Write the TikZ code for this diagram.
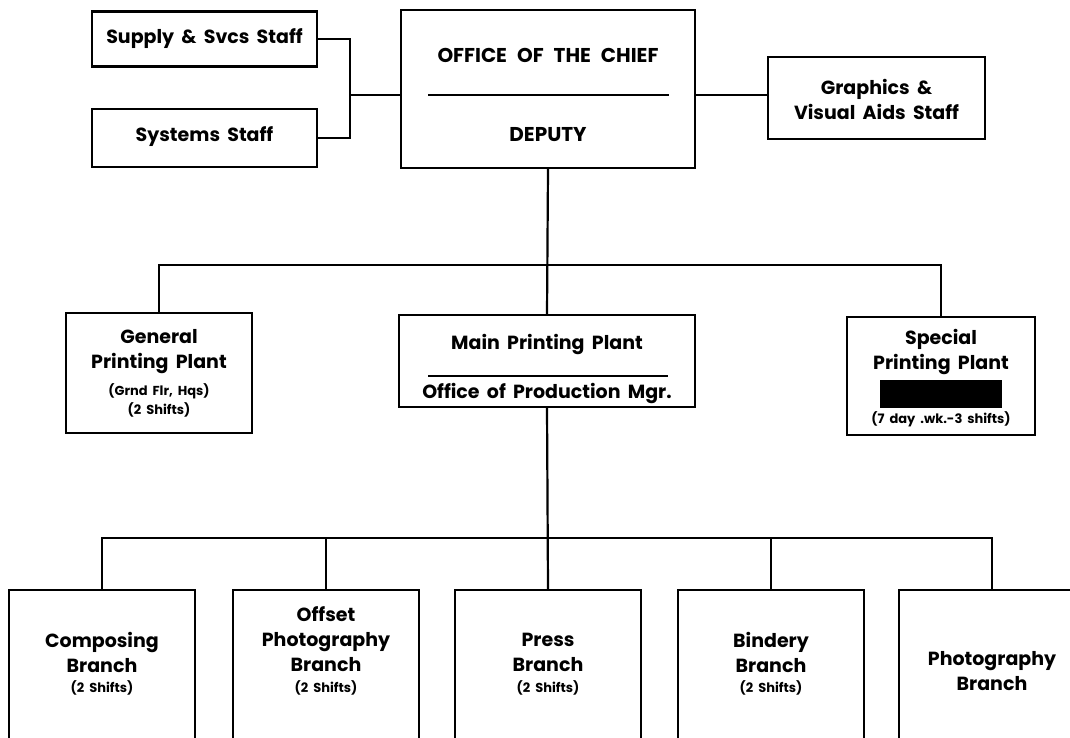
\documentclass[tikz,border=0pt]{standalone}
\usepackage{fontspec}
\setmainfont{Poppins}[WordSpace=1.8]
\begin{document}
\begin{tikzpicture}[x=1pt,y=-1pt,
  box/.style={draw, line width=2.2pt, inner sep=0pt},
  conn/.style={line width=2.2pt},
  big/.style={font=\bfseries\fontsize{19}{25}\selectfont, align=center, inner sep=0pt},
  small/.style={font=\bfseries\fontsize{13}{19}\selectfont, align=center, inner sep=0pt}]
\useasboundingbox (0,0) rectangle (1070,738);
\begin{scope}
\clip (0,0) rectangle (1070,738);
% top level
\node[box, minimum width=225pt, minimum height=55pt] (supply) at (204.5,39) {};
\node[box, minimum width=225pt, minimum height=58pt] (systems) at (204.5,138) {};
\node[box, minimum width=294pt, minimum height=158pt] (chief) at (548,89) {};
\node[box, minimum width=217pt, minimum height=82pt] (graphics) at (876.5,98) {};
% second level
\node[box, minimum width=186pt, minimum height=120pt] (general) at (159,373) {};
\node[box, minimum width=296pt, minimum height=92pt] (main) at (547,361) {};
\node[box, minimum width=188pt, minimum height=118pt] (special) at (941,376) {};
% third level
\foreach \n/\cx in {comp/102, offset/326, press/548, bindery/771, photo/992}{
  \node[box, minimum width=186pt, minimum height=200pt] (\n) at (\cx,690) {};
}
% texts
\node[big] (tsupply) at (204.5,39) {Supply \& Svcs Staff};
\node[big] (tsystems) at (204.5,137) {Systems Staff};
\node[big, font=\bfseries\fontsize{20}{25}\selectfont] (tchief) at (548,55) {OFFICE\hspace{10pt}OF\hspace{10pt}THE\hspace{10pt}CHIEF};
\node[big, font=\bfseries\fontsize{20}{25}\selectfont] (tdeputy) at (548,135) {DEPUTY};
\draw[conn] (428,95) -- (669,95);
\node[big] (tgraphics) at (876.5,99) {Graphics \&\\Visual Aids Staff};
\node[big] (tgeneral) at (159,352) {General\\Printing Plant};
\node[small] (tgeneral2) at (159,400) {(Grnd Flr, Hqs)\\(2 Shifts)};
\node[big] (tmain) at (547,345) {Main Printing Plant};
\draw[conn] (428,376) -- (668,376);
\node[big] (tmain2) at (547,394) {Office of Production Mgr.};
\node[big] (tspecial) at (941,352) {Special\\Printing Plant};
\fill (880,380) rectangle (1002,408);
\node[small] (tspecial2) at (941,419) {(7 day .wk.-3 shifts)};
\node[big] (tcomp) at (102,652) {Composing\\Branch};
\node[small] (tcomp2) at (102,688) {(2 Shifts)};
\node[big] (toffset) at (326,639) {Offset\\Photography\\Branch};
\node[small] (toffset2) at (326,688) {(2 Shifts)};
\node[big] (tpress) at (548,652) {Press\\Branch};
\node[small] (tpress2) at (548,688) {(2 Shifts)};
\node[big] (tbindery) at (771,652) {Bindery\\Branch};
\node[small] (tbindery2) at (771,688) {(2 Shifts)};
\node[big] (tphoto) at (992,671) {Photography\\Branch};
% connectors
\coordinate (j1) at (350,95);
\draw[conn] (supply.east) -| (j1) |- (systems.east);
\draw[conn] (j1) -- (j1 -| chief.west);
\draw[conn] (chief.east |- j1) -- (j1 -| graphics.west);
\coordinate (bus1) at (548,265);
\draw[conn] (chief.south) -- (main.north);
\draw[conn] (general.north) |- (bus1) -| (special.north);
\coordinate (bus2) at (548,538);
\draw[conn] (main.south) -- (press.north);
\draw[conn] (comp.north) |- (bus2) -| (photo.north);
\draw[conn] (offset.north) -- (offset.north |- bus2);
\draw[conn] (bindery.north) -- (bindery.north |- bus2);
\end{scope}
\end{tikzpicture}
\end{document}
